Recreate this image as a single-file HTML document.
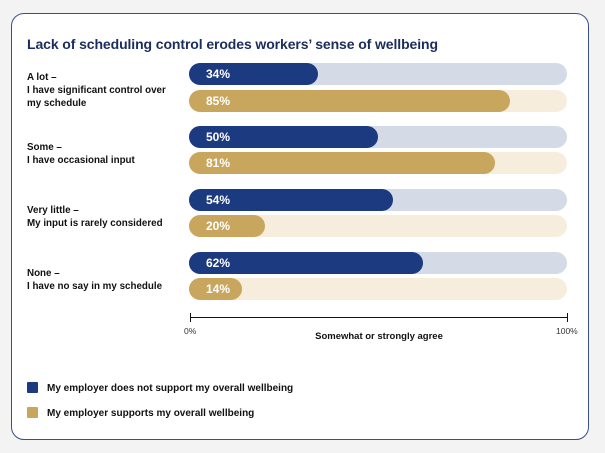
<!DOCTYPE html>
<html><head><style>
body{margin:0;width:605px;height:453px;background:#f3f3f3;font-family:"Liberation Sans",sans-serif;position:relative;overflow:hidden}
.card{position:absolute;left:11px;top:13px;width:578px;height:427px;background:#fff;border:1.5px solid #3a4f8a;border-radius:13px;box-sizing:border-box}
.t{position:absolute;left:27px;top:36px;font-size:14px;font-weight:bold;color:#1b2d5c;letter-spacing:-0.1px}
.lab{position:absolute;left:27px;font-size:9.8px;font-weight:bold;color:#111;line-height:13px}
.tr{position:absolute;left:189px;width:378px;height:22px;border-radius:11px}
.b{position:absolute;left:0;top:0;height:22px;border-radius:11px;color:#fff;font-weight:bold;font-size:12px;line-height:22px;padding-left:17px;box-sizing:border-box}
.bl{background:#d4dae6}.bl .b{background:#1b3a80}
.gl{background:#f6eddd}.gl .b{background:#c9a65d}
.ax{position:absolute;left:190px;top:317px;width:378px;height:1px;background:#111}
.tk{position:absolute;top:313px;width:1px;height:9px;background:#111}
.sm{position:absolute;font-size:8.5px;color:#333;top:326px}
.leg{position:absolute;left:27px;width:11px;height:11px;border-radius:1px}
.lt{position:absolute;left:47px;font-size:10px;font-weight:bold;color:#111}
</style></head><body>
<div class="card"></div>
<div class="t">Lack of scheduling control erodes workers’ sense of wellbeing</div>
<div class="lab" style="top:71px">A lot –<br>I have significant control over<br>my schedule</div>
<div class="lab" style="top:141px">Some –<br>I have occasional input</div>
<div class="lab" style="top:204px">Very little –<br>My input is rarely considered</div>
<div class="lab" style="top:267px">None –<br>I have no say in my schedule</div>
<div class="tr bl" style="top:63px"><div class="b" style="width:34%">34%</div></div>
<div class="tr gl" style="top:90px"><div class="b" style="width:85%">85%</div></div>
<div class="tr bl" style="top:126px"><div class="b" style="width:50%">50%</div></div>
<div class="tr gl" style="top:152px"><div class="b" style="width:81%">81%</div></div>
<div class="tr bl" style="top:189px"><div class="b" style="width:54%">54%</div></div>
<div class="tr gl" style="top:215px"><div class="b" style="width:20%">20%</div></div>
<div class="tr bl" style="top:252px"><div class="b" style="width:62%">62%</div></div>
<div class="tr gl" style="top:278px"><div class="b" style="width:14%">14%</div></div>
<div class="ax"></div><div class="tk" style="left:190px"></div><div class="tk" style="left:567px"></div>
<div class="sm" style="left:184px">0%</div><div class="sm" style="left:556px">100%</div>
<div style="position:absolute;left:290px;width:178px;text-align:center;top:331px;font-size:9.5px;font-weight:bold;color:#111">Somewhat or strongly agree</div>
<div class="leg" style="top:382px;background:#1b3a80"></div><div class="lt" style="top:383px">My employer does not support my overall wellbeing</div>
<div class="leg" style="top:407px;background:#c9a65d"></div><div class="lt" style="top:408px">My employer supports my overall wellbeing</div>
</body></html>
